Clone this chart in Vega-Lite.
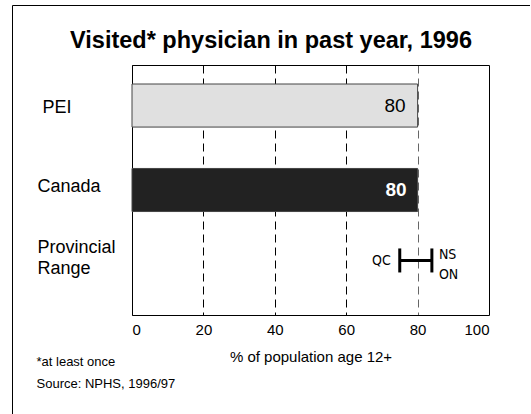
{
  "$schema": "https://vega.github.io/schema/vega-lite/v6.json",
  "width": 518,
  "height": 420,
  "autosize": "none",
  "padding": {"left": 12, "top": 5, "right": 0, "bottom": 0},
  "background": "white",
  "config": {
    "font": "Liberation Sans",
    "view": {"stroke": "black", "strokeWidth": 1},
    "axis": {"labelColor": "black", "titleColor": "black", "labelFont": "Liberation Sans", "titleFont": "Liberation Sans"}
  },
  "title": {
    "text": "Visited* physician in past year, 1996",
    "fontSize": 23.5,
    "fontWeight": "bold",
    "font": "Liberation Sans",
    "color": "black",
    "anchor": "middle",
    "frame": "group",
    "offset": -47
  },
  "datasets": {
    "bars": [
      {"cat": "PEI", "pct": 80},
      {"cat": "Canada", "pct": 80}
    ],
    "range": [
      {"cat": "Provincial Range", "lo": 75, "hi": 84, "loLabel": "QC", "hiLabel": ["NS", "ON"]}
    ]
  },
  "layer": [
    {
      "data": {"name": "bars"},
      "mark": {"type": "bar", "stroke": "#444444", "strokeWidth": 1},
      "encoding": {
        "x": {
          "field": "pct",
          "type": "quantitative",
          "scale": {"domain": [0, 100], "range": [120, 477], "nice": false, "zero": true},
          "axis": {
            "orient": "bottom",
            "offset": -110,
            "values": [0, 20, 40, 60, 80, 100],
            "grid": false,
            "ticks": false,
            "domain": true,
            "domainColor": "black",
            "domainWidth": 1,
            "labelFontSize": 15,
            "labelPadding": 7,
            "title": "% of population age 12+",
            "titleFontSize": 15,
            "titleFontWeight": "normal",
            "titlePadding": 12
          }
        },
        "y": {
          "field": "cat",
          "type": "nominal",
          "sort": ["PEI", "Canada", "Provincial Range"],
          "scale": {
            "domain": ["PEI", "Canada", "Provincial Range"],
            "range": [60, 310],
            "paddingInner": 0.49,
            "paddingOuter": 0.225
          },
          "axis": {
            "orient": "left",
            "offset": -120,
            "grid": false,
            "ticks": false,
            "domain": true,
            "domainColor": "black",
            "labelAlign": "left",
            "labelBaseline": {"condition": {"test": "datum.value == 'Canada'", "value": "alphabetic"}, "value": "middle"},
            "labelPadding": {"condition": {"test": "datum.value == 'PEI'", "value": 90}, "value": 95},
            "labelFontSize": 18,
            "labelLineHeight": 21,
            "labelExpr": "datum.value == 'Provincial Range' ? ['Provincial', 'Range'] : datum.value",
            "labelOffset": {"condition": {"test": "datum.value == 'Provincial Range'", "value": -26}, "value": 2},
            "title": ["*at least once", "Source:  NPHS, 1996/97"],
            "titleAngle": 0,
            "titleAlign": "left",
            "titleBaseline": "alphabetic",
            "titleX": -96,
            "titleY": 360,
            "titleFontSize": 13,
            "titleFontWeight": "normal",
            "titleLineHeight": 22
          }
        },
        "color": {
          "field": "cat",
          "type": "nominal",
          "scale": {"domain": ["PEI", "Canada"], "range": ["#e0e0e0", "#222222"]},
          "legend": null
        }
      }
    },
    {
      "data": {"name": "bars"},
      "transform": [{"filter": "datum.cat == 'PEI'"}],
      "mark": {"type": "text", "align": "right", "baseline": "middle", "dx": -12, "fontSize": 19, "color": "black"},
      "encoding": {
        "x": {"field": "pct", "type": "quantitative", "axis": null},
        "y": {"field": "cat", "type": "nominal"},
        "text": {"field": "pct", "type": "quantitative"}
      }
    },
    {
      "data": {"name": "bars"},
      "transform": [{"filter": "datum.cat == 'Canada'"}],
      "mark": {"type": "text", "align": "right", "baseline": "middle", "dx": -11, "fontSize": 19, "fontWeight": "bold", "color": "white"},
      "encoding": {
        "x": {"field": "pct", "type": "quantitative", "axis": null},
        "y": {"field": "cat", "type": "nominal"},
        "text": {"field": "pct", "type": "quantitative"}
      }
    },
    {
      "data": {"name": "range"},
      "mark": {"type": "rule", "strokeWidth": 3, "color": "black", "yOffset": -14},
      "encoding": {
        "x": {
          "field": "lo",
          "type": "quantitative",
          "axis": {
            "orient": "top",
            "offset": -60,
            "values": [0, 20, 40, 60, 80, 100],
            "labels": false,
            "ticks": false,
            "domain": true,
            "domainColor": "black",
            "title": null,
            "grid": true,
            "gridWidth": 1,
            "gridOpacity": 1,
            "gridColor": {"condition": {"test": "datum.value == 80", "value": "#666666"}, "value": "black"},
            "gridDash": {"condition": {"test": "datum.value == 0 || datum.value == 100", "value": []}, "value": [8, 5]}
          }
        },
        "x2": {"field": "hi"},
        "y": {"field": "cat", "type": "nominal"}
      }
    },
    {
      "data": {"name": "range"},
      "mark": {"type": "tick", "size": 24, "thickness": 3, "color": "black", "opacity": 1, "yOffset": -14, "orient": "vertical"},
      "encoding": {
        "x": {"field": "lo", "type": "quantitative", "axis": null},
        "y": {"field": "cat", "type": "nominal"}
      }
    },
    {
      "data": {"name": "range"},
      "mark": {"type": "tick", "size": 24, "thickness": 3, "color": "black", "opacity": 1, "yOffset": -14, "orient": "vertical"},
      "encoding": {
        "x": {"field": "hi", "type": "quantitative", "axis": null},
        "y": {"field": "cat", "type": "nominal"}
      }
    },
    {
      "data": {"name": "range"},
      "mark": {"type": "text", "align": "right", "baseline": "middle", "dx": -9, "yOffset": -13, "fontSize": 14, "font": "Liberation Sans Narrow, DejaVu Sans Condensed, Liberation Sans, sans-serif", "color": "black"},
      "encoding": {
        "x": {"field": "lo", "type": "quantitative", "axis": null},
        "y": {"field": "cat", "type": "nominal"},
        "text": {"field": "loLabel"}
      }
    },
    {
      "data": {"name": "range"},
      "mark": {"type": "text", "align": "left", "baseline": "middle", "dx": 7, "yOffset": -19, "fontSize": 14, "lineHeight": 20, "font": "Liberation Sans Narrow, DejaVu Sans Condensed, Liberation Sans, sans-serif", "color": "black"},
      "encoding": {
        "x": {"field": "hi", "type": "quantitative", "axis": null},
        "y": {"field": "cat", "type": "nominal"},
        "text": {"field": "hiLabel"}
      }
    }
  ],
  "resolve": {"axis": {"x": "independent"}}
}
